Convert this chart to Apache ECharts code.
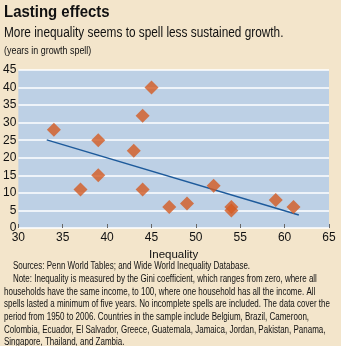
<!DOCTYPE html>
<html><head><meta charset="utf-8">
<script src="https://cdn.jsdelivr.net/npm/echarts@6/dist/echarts.min.js"></script>
<style>html,body{margin:0;padding:0;background:#f3e5cb;}#c{width:341px;height:346px;}</style>
</head><body><div id="c"></div>
<script>
const inequality = [34, 37, 39, 39, 43, 44, 45, 44, 47, 49, 52, 54, 54, 59, 61];
const years      = [28, 11, 25, 15, 22, 32, 40, 11, 6, 7, 12, 6, 5, 8, 6];
const trendX = [33.2, 61.6];
const trendY = [25.1, 3.7];
const xTicks = [30, 35, 40, 45, 50, 55, 60, 65];
const yTicks = [0, 5, 10, 15, 20, 25, 30, 35, 40, 45];
const title = 'Lasting effects';
const subtitle = 'More inequality seems to spell less sustained growth.';
const unit = '(years in growth spell)';
const xName = 'Inequality';
const notes = [
  '    Sources: Penn World Tables; and Wide World Inequality Database.',
  '    Note: Inequality is measured by the Gini coefficient, which ranges from zero, where all',
  'households have the same income, to 100, where one household has all the income. All',
  'spells lasted a minimum of five years. No incomplete spells are included. The data cover the',
  'period from 1950 to 2006. Countries in the sample include Belgium, Brazil, Cameroon,',
  'Colombia, Ecuador, El Salvador, Greece, Guatemala, Jamaica, Jordan, Pakistan, Panama,',
  'Singapore, Thailand, and Zambia.'
];
const F = 'Liberation Sans, Arial, sans-serif';
const chart = echarts.init(document.getElementById('c'), null, {renderer:'canvas'});
chart.setOption({
  backgroundColor: '#f3e5cb',
  animation: false,
  textStyle: {fontFamily: F},
  graphic: [
    {type:'text', x:4, y:4, scaleX:0.88, style:{text:title, font:'bold 17px '+F, fill:'#111', verticalAlign:'top'}},
    {type:'text', x:4, y:26, scaleX:0.845, style:{text:subtitle, font:'14px '+F, fill:'#111', verticalAlign:'top'}},
    {type:'text', x:4, y:46, scaleX:0.85, style:{text:unit, font:'10.5px '+F, fill:'#111', verticalAlign:'top'}},
    {type:'text', x:4, y:260, scaleX:0.80, style:{text:notes.join('\n'), font:'10px '+F, fill:'#111', lineHeight:12.7, verticalAlign:'top'}}
  ],
  grid: {left:16, right:12, top:70, bottom:118, show:true, backgroundColor:'#bdd0e5', borderWidth:0},
  xAxis: {
    type:'value', min:30, max:65, interval:5,
    name:xName, nameLocation:'middle', nameGap:21,
    nameTextStyle:{fontSize:11.5, color:'#111', fontFamily:F},
    axisLine:{show:false},
    axisTick:{show:true, inside:true, length:4, lineStyle:{color:'#666'}},
    axisLabel:{fontSize:12, color:'#111', margin:4, fontFamily:F},
    splitLine:{show:false}
  },
  yAxis: {
    type:'value', min:0, max:45, interval:5,
    axisLine:{show:false}, axisTick:{show:false},
    axisLabel:{fontSize:12, color:'#111', margin:2, fontFamily:F},
    splitLine:{show:true, lineStyle:{color:'#ffffff', width:1.5}}
  },
  series: [
    {type:'line', data: trendX.map((x,i)=>[x, trendY[i]]), symbol:'none',
     lineStyle:{color:'#1d5a9b', width:1.5}, z:2},
    {type:'scatter', data: inequality.map((x,i)=>[x, years[i]]), symbol:'diamond', symbolSize:[14,14],
     itemStyle:{color:'#d35a22'}, z:3}
  ]
});
</script></body></html>
